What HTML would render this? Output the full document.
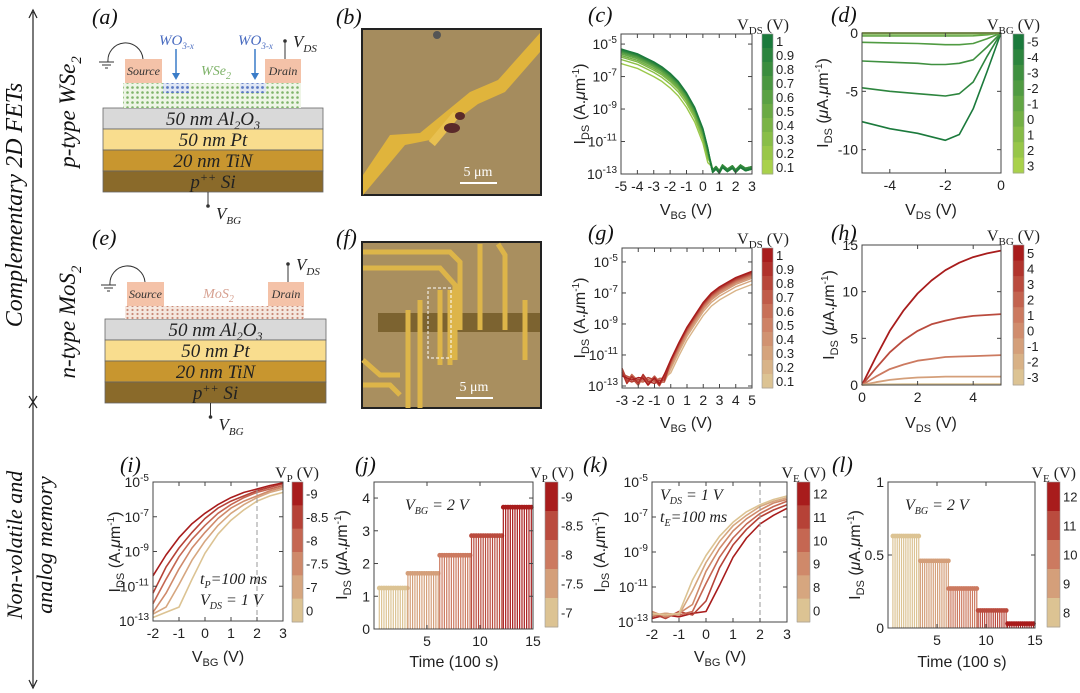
<!DOCTYPE html>
<html><head><meta charset="utf-8"><style>
html,body{margin:0;padding:0;background:#fff;}
svg{display:block;font-family:"Liberation Sans",sans-serif;}
.ser{font-family:"Liberation Serif",serif;font-style:italic;}
</style></head><body>
<svg id="fig" width="1080" height="693" viewBox="0 0 1080 693" xmlns="http://www.w3.org/2000/svg">
<defs>
<pattern id="wse" width="5" height="5" patternUnits="userSpaceOnUse"><rect width="5" height="5" fill="#eef5e6"/><circle cx="2.5" cy="2.5" r="1.3" fill="#7fb36a"/></pattern>
<pattern id="mos" width="5" height="4" patternUnits="userSpaceOnUse"><rect width="5" height="4" fill="#f5e7df"/><circle cx="2.5" cy="2" r="1.1" fill="#c98a78"/></pattern>
<pattern id="wo" width="5" height="5" patternUnits="userSpaceOnUse"><rect width="5" height="5" fill="#dfe6f5"/><circle cx="2.5" cy="2.5" r="1.4" fill="#5a78c0"/></pattern>
</defs>
<g>
<line x1="33" y1="12" x2="33" y2="686" stroke="#222" stroke-width="1.2"/>
<path d="M29,18 L33,10 L37,18" fill="none" stroke="#222" stroke-width="1.2"/>
<path d="M29,680 L33,688 L37,680" fill="none" stroke="#222" stroke-width="1.2"/>
<path d="M29,396 L33,402 L37,396 M29,408 L33,402 L37,408" fill="none" stroke="#222" stroke-width="1.2"/>
<text class="ser" transform="translate(22,205) rotate(-90)" text-anchor="middle" font-size="24" fill="#111">Complementary 2D FETs</text>
<text class="ser" transform="translate(75,112) rotate(-90)" text-anchor="middle" font-size="23" fill="#111">p-type WSe<tspan font-size="15" dy="6">2</tspan></text>
<text class="ser" transform="translate(75,322) rotate(-90)" text-anchor="middle" font-size="23" fill="#111">n-type MoS<tspan font-size="15" dy="6">2</tspan></text>
<text class="ser" transform="translate(22,545) rotate(-90)" text-anchor="middle" font-size="22" fill="#111">Non-volatile and</text>
<text class="ser" transform="translate(52,545) rotate(-90)" text-anchor="middle" font-size="22" fill="#111">analog memory</text>
</g>
<g id="schem"></g>
<g id="micro"></g>
<g id="plots"></g>
</svg>
<script>
const cVbg=[-5,-4.5,-4,-3.5,-3,-2.5,-2,-1.5,-1,-0.5,0,0.3,0.5,0.6,0.8,1,1.2,1.5,1.8,2,2.3,2.6,3];
const cLogI=[-5.3,-5.45,-5.6,-5.85,-6.1,-6.4,-6.8,-7.3,-8.0,-8.9,-10.2,-11.4,-12.5,-12.9,-12.7,-12.95,-12.6,-12.85,-12.65,-12.9,-12.6,-12.8,-12.7];
const cVds=[1,0.9,0.8,0.7,0.6,0.5,0.4,0.3,0.2,0.1];
const cOffset=[0,-0.05,-0.1,-0.15,-0.22,-0.3,-0.4,-0.5,-0.65,-0.9];

const dVds=[-5,-4,-3,-2.5,-2,-1.5,-1,-0.5,0];
const dVbg=[-5,-4,-3,-2,-1,0,1,2,3];
const dI=[
 [-7.6,-8.2,-8.6,-8.9,-9.2,-8.7,-6.5,-3.3,0],
 [-4.7,-5.0,-5.2,-5.3,-5.4,-5.2,-4.2,-2.0,0],
 [-2.4,-2.5,-2.6,-2.7,-2.7,-2.6,-2.3,-1.2,0],
 [-0.8,-0.85,-0.9,-0.95,-1.0,-1.0,-0.9,-0.5,0],
 [-0.25,-0.25,-0.25,-0.25,-0.25,-0.25,-0.24,-0.15,0],
 [-0.08,-0.08,-0.08,-0.08,-0.08,-0.08,-0.08,-0.05,0],
 [-0.02,-0.02,-0.02,-0.02,-0.02,-0.02,-0.02,-0.01,0],
 [0,0,0,0,0,0,0,0,0],
 [0,0,0,0,0,0,0,0,0]];

const gVbg=[-3,-2.7,-2.4,-2,-1.7,-1.4,-1,-0.7,-0.4,0,0.5,1,1.5,2,2.5,3,4,5];
const gLogI=[-12.1,-12.6,-12.5,-12.7,-12.5,-12.7,-12.6,-12.75,-12.5,-11.3,-10.2,-9.2,-8.4,-7.6,-7.0,-6.6,-6.0,-5.6];
const gVds=[1,0.9,0.8,0.7,0.6,0.5,0.4,0.3,0.2,0.1];
const gOffset=[0,-0.05,-0.1,-0.15,-0.2,-0.27,-0.35,-0.45,-0.6,-0.85];

const hVds=[0,0.5,1,1.5,2,2.5,3,3.5,4,4.5,5];
const hVbg=[5,3,1,-1,-3];
const hI=[
 [0,3.0,5.8,8.0,9.8,11.2,12.3,13.1,13.7,14.1,14.4],
 [0,1.8,3.5,4.8,5.8,6.5,6.9,7.2,7.4,7.5,7.6],
 [0,0.9,1.7,2.2,2.6,2.8,3.0,3.05,3.1,3.15,3.2],
 [0,0.3,0.55,0.7,0.8,0.85,0.9,0.9,0.9,0.9,0.9],
 [0,0.05,0.08,0.1,0.1,0.1,0.1,0.1,0.1,0.1,0.1]];

const iVbg=[-2,-1.5,-1,-0.5,0,0.5,1,1.5,2,2.5,3];
const iCurves=[
 [-10.4,-9.2,-8.2,-7.4,-6.8,-6.3,-5.9,-5.6,-5.4,-5.2,-5.05],
 [-11.4,-9.9,-8.8,-7.9,-7.1,-6.5,-6.1,-5.8,-5.5,-5.3,-5.1],
 [-12.0,-10.6,-9.3,-8.3,-7.5,-6.8,-6.3,-5.9,-5.6,-5.4,-5.2],
 [-12.5,-11.4,-10.0,-8.8,-7.9,-7.1,-6.5,-6.1,-5.8,-5.5,-5.3],
 [-12.6,-12.2,-10.9,-9.5,-8.4,-7.5,-6.8,-6.3,-5.9,-5.6,-5.4],
 [-12.8,-12.5,-12.2,-10.6,-9.1,-8.0,-7.2,-6.6,-6.1,-5.8,-5.6]];
const iVp=[-9,-8.5,-8,-7.5,-7,0];

const jLevels=[1.25,1.7,2.25,2.85,3.72];
const jStart=[0.5,3.2,6.2,9.2,12.2];
const jEnd=[3.2,6.2,9.2,12.2,14.9];

const kVbg=[-2,-1.5,-1,-0.5,0,0.5,1,1.5,2,2.5,3];
const kCurves=[
 [-12.5,-12.6,-12.5,-10.6,-9.2,-8.1,-7.3,-6.7,-6.3,-6.0,-5.8],
 [-12.6,-12.5,-12.6,-11.2,-9.6,-8.4,-7.5,-6.9,-6.4,-6.1,-5.9],
 [-12.4,-12.7,-12.5,-12.0,-10.1,-8.8,-7.8,-7.1,-6.6,-6.2,-6.0],
 [-12.7,-12.5,-12.6,-12.4,-10.8,-9.3,-8.2,-7.4,-6.8,-6.4,-6.1],
 [-12.5,-12.8,-12.4,-12.6,-11.8,-9.9,-8.6,-7.7,-7.0,-6.6,-6.3],
 [-12.8,-12.6,-12.7,-12.5,-12.4,-10.9,-9.3,-8.2,-7.4,-6.9,-6.5]];
const kVe=[0,8,9,10,11,12];

const lLevels=[0.63,0.46,0.27,0.12,0.03];
const lStart=[0.5,3.3,6.2,9.2,12.2];
const lEnd=[3.3,6.2,9.2,12.2,15];

const NS="http://www.w3.org/2000/svg";
function mk(tag,attrs,parent){const e=document.createElementNS(NS,tag);for(const k in attrs)e.setAttribute(k,attrs[k]);parent.appendChild(e);return e;}
function lerpC(a,b,t){const pa=[1,3,5].map(i=>parseInt(a.substr(i,2),16)),pb=[1,3,5].map(i=>parseInt(b.substr(i,2),16));return 'rgb('+pa.map((v,i)=>Math.round(v+(pb[i]-v)*t)).join(',')+')';}
function green(t){return lerpC('#a9d14b','#1b7a3c',t);}
function red(t){return t<0.5?lerpC('#dcc393','#cc7a60',t*2):lerpC('#cc7a60','#a81c1c',(t-0.5)*2);}
const plots=document.getElementById('plots');

function makeAxes(o){
 const g=mk('g',{},plots);
 
 
 const sx=v=>o.x0+(v-o.xd[0])/(o.xd[1]-o.xd[0])*(o.x1-o.x0);
 const sy=v=>o.y1-(v-o.yd[0])/(o.yd[1]-o.yd[0])*(o.y1-o.y0);
 return {g,sx,sy,o};
}
function drawFrame(A,xt,yt,logY){
 const {g,sx,sy,o}=A;
 const fr=mk('rect',{x:o.x0,y:o.y0,width:o.x1-o.x0,height:o.y1-o.y0,fill:'none',stroke:'#444','stroke-width':1},g);
 
 
 xt.forEach(v=>{const x=sx(v);
  mk('line',{x1:x,x2:x,y1:o.y1,y2:o.y1-4,stroke:'#444'},g);mk('line',{x1:x,x2:x,y1:o.y0,y2:o.y0+4,stroke:'#444'},g);
  const t=mk('text',{x:x,y:o.y1+17,'text-anchor':'middle','font-size':14,fill:'#222'},g);t.textContent=String(v);
  
  });
 yt.forEach(v=>{const y=sy(v);
  mk('line',{x1:o.x0,x2:o.x0+4,y1:y,y2:y,stroke:'#444'},g);mk('line',{x1:o.x1,x2:o.x1-4,y1:y,y2:y,stroke:'#444'},g);
  const t=mk('text',{x:o.x0-4,y:y+5,'text-anchor':'end','font-size':14,fill:'#222'},g);
  if(logY){t.textContent='10';const s=mk('tspan',{'font-size':10,dy:-6},t);s.textContent=String(v);}
  else t.textContent=String(v);
  
  });
}
function line(A,xs,ys,color,w){
 const d=xs.map((x,i)=>(i?'L':'M')+A.sx(x).toFixed(1)+','+A.sy(ys[i]).toFixed(1)).join('');
 return mk('path',{d:d,fill:'none',stroke:color,'stroke-width':w||1.6,'stroke-linejoin':'round'},A.g);
}
function colorbar(x,y0,y1,w,n,cf,labels,title,name){
 const g=mk('g',{},plots);
 
 
 const h=(y1-y0)/n;
 for(let i=0;i<n;i++){const r=mk('rect',{x:x,y:y0+i*h,width:w,height:h+0.5,fill:cf(1-i/(n-1))},g);
  
  }
 mk('rect',{x:x,y:y0,width:w,height:y1-y0,fill:'none',stroke:'#999','stroke-width':0.6},g);
 const lh=(y1-y0)/labels.length;
 labels.forEach((l,i)=>{const t=mk('text',{x:x+w+3,y:y0+lh*(i+0.5)+5,'font-size':13,fill:'#222'},g);t.textContent=l;
  
  });
 const t=mk('text',{x:x+w+16,y:y0-4,'text-anchor':'end','font-size':16,fill:'#222','font-family':'Liberation Serif, serif'},g);
 t.textContent=title[0];const s=mk('tspan',{'font-size':11,dy:4},t);s.textContent=title[1];const s2=mk('tspan',{dy:-4},t);s2.textContent=' (V)';
 
 
}
function txt(x,y,parts,opts,name){
 const t=mk('text',Object.assign({x:x,y:y,fill:'#222','font-size':15},opts||{}),plots);
 parts.forEach(p=>{const s=mk('tspan',p[1]||{},t);s.textContent=p[0];});
 
 
 return t;
}
function xTitle(x,y,main,sub,name,unit){const u=(unit===undefined)?' (V)':unit;txt(x,y,[[main],[sub,{'font-size':11,dy:4}],[u,{dy:-4}]],{'text-anchor':'middle','font-size':16},name);}
function yTitle(x,y,log,name){
 const t=mk('text',{x:0,y:0,transform:`translate(${x},${y}) rotate(-90)`,'text-anchor':'middle','font-size':16,fill:'#222'},plots);
 const parts=log?[['I'],['DS',{'font-size':11,dy:4}],[' (A.',{dy:-4}],['\u03bc','it'],['m'],['-1',{'font-size':10,dy:-6}],[')',{dy:6}]]
  :[['I'],['DS',{'font-size':11,dy:4}],[' (',{dy:-4}],['\u03bc','it'],['A.'],['\u03bc','it'],['m'],['-1',{'font-size':10,dy:-6}],[')',{dy:6}]];
 parts.forEach(p=>{const s=mk('tspan',p[1]==='it'?{'font-style':'italic'}:(p[1]||{}),t);s.textContent=p[0];});
 
 
}
function panelLabel(x,y,s){const t=mk('text',{x:x,y:y,'font-size':22,fill:'#111','font-family':'Liberation Serif, serif','font-style':'italic'},document.getElementById('fig'));t.textContent='('+s+')';
 
 }

let A=makeAxes({name:'panel-c-transfer',x0:621,x1:752,y0:34,y1:174,xd:[-5,3],yd:[-13,-4.38]});
cVds.slice().reverse().forEach((v,ri)=>{const i=cVds.length-1-ri;
 const ys=cLogI.map((y,k)=>cVbg[k]<0.5?y+cOffset[i]:y+(i%3)*0.08);
 const p=line(A,cVbg,ys,green(v),1.4);
 
 });
drawFrame(A,[-5,-4,-3,-2,-1,0,1,2,3],[-5,-7,-9,-11,-13],true);
xTitle(686,215,'V','BG','x-axis-title-c');yTitle(585,104,true,'y-axis-title-c');
colorbar(762,34,174,11,10,green,['1','0.9','0.8','0.7','0.6','0.5','0.4','0.3','0.2','0.1'],['V','DS'],'colorbar-c');

A=makeAxes({name:'panel-d-output',x0:862,x1:1001,y0:33,y1:173,xd:[-5,0],yd:[-12,0]});
dVbg.forEach((v,i)=>{const p=line(A,dVds,dI[i],green(1-i/(dVbg.length-1)),1.6);
 
 });
drawFrame(A,[-4,-2,0],[0,-5,-10],false);
xTitle(931,215,'V','DS','x-axis-title-d');yTitle(828,103,false,'y-axis-title-d');
colorbar(1013,34,173,11,9,green,['-5','-4','-3','-2','-1','0','1','2','3'],['V','BG'],'colorbar-d');

A=makeAxes({name:'panel-g-transfer',x0:622,x1:752,y0:248,y1:388,xd:[-3,5],yd:[-13.13,-4.1]});
gVds.slice().reverse().forEach((v,ri)=>{const i=gVds.length-1-ri;
 const ys=gLogI.map((y,k)=>gVbg[k]>-0.3?y+gOffset[i]:y+((i*7+k*3)%5-2)*0.12);
 const p=line(A,gVbg,ys,red(v),1.4);
 
 });
drawFrame(A,[-3,-2,-1,0,1,2,3,4,5],[-5,-7,-9,-11,-13],true);
xTitle(686,428,'V','BG','x-axis-title-g');yTitle(585,318,true,'y-axis-title-g');
colorbar(762,248,388,11,10,red,['1','0.9','0.8','0.7','0.6','0.5','0.4','0.3','0.2','0.1'],['V','DS'],'colorbar-g');

A=makeAxes({name:'panel-h-output',x0:862,x1:1001,y0:245,y1:385,xd:[0,5],yd:[0,15]});
hVbg.forEach((v,i)=>{const p=line(A,hVds,hI[i],red((v+3)/8),1.8);
 
 });
drawFrame(A,[0,2,4],[0,5,10,15],false);
xTitle(931,428,'V','DS','x-axis-title-h');yTitle(834,315,false,'y-axis-title-h');
colorbar(1013,245,385,11,9,red,['5','4','3','2','1','0','-1','-2','-3'],['V','BG'],'colorbar-h');

A=makeAxes({name:'panel-i-memory-program',x0:153,x1:283,y0:482,y1:621,xd:[-2,3],yd:[-13,-5]});
iCurves.slice().reverse().forEach((c,ri)=>{const i=iCurves.length-1-ri;
 const p=line(A,iVbg,c,red(1-i/(iCurves.length-1)),1.6);
 
 });
mk('line',{x1:A.sx(2),x2:A.sx(2),y1:482,y2:621,stroke:'#999','stroke-dasharray':'5,3'},A.g);
drawFrame(A,[-2,-1,0,1,2,3],[-5,-7,-9,-11,-13],true);
xTitle(218,662,'V','BG','x-axis-title-i');yTitle(120,552,true,'y-axis-title-i');
colorbar(292,482,622,11,6,red,['-9','-8.5','-8','-7.5','-7','0'],['V','P'],'colorbar-i');
txt(200,584,[['t'],['P',{'font-size':10,dy:4}],['=100 ms',{dy:-4}]],{'font-family':'Liberation Serif, serif','font-style':'italic','font-size':16},'annotation-tp');
txt(200,605,[['V'],['DS',{'font-size':10,dy:4}],[' = 1 V',{dy:-4}]],{'font-family':'Liberation Serif, serif','font-style':'italic','font-size':16},'annotation-vds');

function stems(A,levels,st,en,cf){
 levels.forEach((lv,i)=>{const c=cf(i);
  for(let t=st[i];t<en[i];t+=0.22){
   const l=mk('line',{x1:A.sx(t),x2:A.sx(t),y1:A.sy(0),y2:A.sy(lv),stroke:c,'stroke-width':1.2},A.g);
   
   
   const d=mk('circle',{cx:A.sx(t),cy:A.sy(lv),r:2.4,fill:c},A.g);
   
   }
 });
}
A=makeAxes({name:'panel-j-program-retention',x0:374,x1:533,y0:482,y1:629,xd:[0,15],yd:[0,4.49]});
stems(A,jLevels,jStart,jEnd,i=>red(i/4));
drawFrame(A,[5,10,15],[0,1,2,3,4],false);
xTitle(454,667,'Time (100 s)','','x-axis-title-j','');
yTitle(347,555,false,'y-axis-title-j');
colorbar(545,482,627,13,5,red,['-9','-8.5','-8','-7.5','-7'],['V','P'],'colorbar-j');
txt(405,510,[['V'],['BG',{'font-size':10,dy:4}],[' = 2 V',{dy:-4}]],{'font-family':'Liberation Serif, serif','font-style':'italic','font-size':16},'annotation-vbg-j');

A=makeAxes({name:'panel-k-memory-erase',x0:652,x1:787,y0:482,y1:622,xd:[-2,3],yd:[-13,-5]});
kCurves.slice().reverse().forEach((c,ri)=>{const i=kCurves.length-1-ri;
 const p=line(A,kVbg,c,red(i/(kCurves.length-1)),1.6);
 
 });
mk('line',{x1:A.sx(2),x2:A.sx(2),y1:482,y2:622,stroke:'#999','stroke-dasharray':'5,3'},A.g);
drawFrame(A,[-2,-1,0,1,2,3],[-5,-7,-9,-11,-13],true);
xTitle(720,662,'V','BG','x-axis-title-k');yTitle(605,552,true,'y-axis-title-k');
colorbar(797,482,622,13,6,red,['12','11','10','9','8','0'],['V','E'],'colorbar-k');
txt(660,500,[['V'],['DS',{'font-size':10,dy:4}],[' = 1 V',{dy:-4}]],{'font-family':'Liberation Serif, serif','font-style':'italic','font-size':16},'annotation-vds-k');
txt(660,522,[['t'],['E',{'font-size':10,dy:4}],['=100 ms',{dy:-4}]],{'font-family':'Liberation Serif, serif','font-style':'italic','font-size':16},'annotation-te');

A=makeAxes({name:'panel-l-erase-retention',x0:888,x1:1035,y0:482,y1:628,xd:[0,15],yd:[0,1]});
stems(A,lLevels,lStart,lEnd,i=>red(i/4));
drawFrame(A,[5,10,15],[0,0.5,1],false);
xTitle(962,667,'Time (100 s)','','x-axis-title-l','');
yTitle(860,555,false,'y-axis-title-l');
colorbar(1047,482,627,13,5,red,['12','11','10','9','8'],['V','E'],'colorbar-l');
txt(905,510,[['V'],['BG',{'font-size':10,dy:4}],[' = 2 V',{dy:-4}]],{'font-family':'Liberation Serif, serif','font-style':'italic','font-size':16},'annotation-vbg-l');

[['a',92,24],['b',336,24],['c',588,22],['d',831,22],['e',92,245],['f',336,245],['g',588,240],['h',831,240],['i',120,472],['j',355,472],['k',583,472],['l',832,472]].forEach(p=>panelLabel(p[1],p[2],p[0]));

const sch=document.getElementById('schem');
function device(y0,x0,x1,isW){
 const layers=['#d9d9d9','#f9dd8e','#c8962f','#8a6a2a'];
 const names=['50 nm Al','50 nm Pt','20 nm TiN','p'];
 const g=mk('g',{},sch);
 
 
 layers.forEach((col,i)=>{const y=y0+i*21;
  const r=mk('rect',{x:x0,y:y,width:x1-x0,height:21,fill:col,stroke:'#666','stroke-width':0.8},g);
  
  
  const t=mk('text',{x:(x0+x1)/2,y:y+17,'text-anchor':'middle','font-size':19,fill:'#222','font-family':'Liberation Serif, serif','font-style':'italic'},g);
  t.textContent=names[i];
  if(i==0){const a=mk('tspan',{'font-size':12,dy:4},t);a.textContent='2';const b=mk('tspan',{dy:-4},t);b.textContent='O';const c=mk('tspan',{'font-size':12,dy:4},t);c.textContent='3';}
  else if(i==3){const a=mk('tspan',{'font-size':12,dy:-7},t);a.textContent='++';const b=mk('tspan',{dy:7},t);b.textContent=' Si';}
 });
 const cx0=x0+20,cx1=x1-22;
 const chH=isW?25:13;
 mk('rect',{x:cx0,y:y0-chH,width:cx1-cx0,height:chH,fill:isW?'url(#wse)':'url(#mos)'},g);
 if(isW){mk('rect',{x:163,y:y0-chH,width:26,height:10,fill:'url(#wo)'},g);mk('rect',{x:240,y:y0-chH,width:26,height:10,fill:'url(#wo)'},g);}
 const py=y0-chH-24;
 [['Source',cx0+2,cx0+39],['Drain',x1-58,x1-22]].forEach(s=>{
  mk('rect',{x:s[1],y:py,width:s[2]-s[1],height:24,fill:'#f4c2a8'},g);
  const t=mk('text',{x:(s[1]+s[2])/2,y:py+16,'text-anchor':'middle','font-size':12,fill:'#333','font-family':'Liberation Serif, serif','font-style':'italic'},g);t.textContent=s[0];
  
  });
 mk('path',{d:`M${x0+5},${py+3} A17,17 0 0 1 ${x0+40},${py}`,fill:'none',stroke:'#333'},g);
 mk('path',{d:`M${x0-4},${py+3} h15 M${x0-1},${py+6} h9 M${x0+2},${py+9} h3`,stroke:'#333'},g);
 mk('line',{x1:x1-38,x2:x1-38,y1:py,y2:py-18,stroke:'#333'},g);mk('circle',{cx:x1-38,cy:py-18,r:1.8,fill:'#333'},g);
 let t=mk('text',{x:x1-30,y:py-12,'font-size':17,fill:'#222','font-family':'Liberation Serif, serif','font-style':'italic'},g);t.textContent='V';let s=mk('tspan',{'font-size':11,dy:5},t);s.textContent='DS';
 const bx=(x0+x1)/2-5,by=y0+84;
 mk('line',{x1:bx,x2:bx,y1:by,y2:by+14,stroke:'#333'},g);mk('circle',{cx:bx,cy:by+14,r:1.8,fill:'#333'},g);
 t=mk('text',{x:bx+8,y:by+27,'font-size':17,fill:'#222','font-family':'Liberation Serif, serif','font-style':'italic'},g);t.textContent='V';s=mk('tspan',{'font-size':11,dy:5},t);s.textContent='BG';
 t=mk('text',{x:(x0+x1)/2+3,y:y0-chH-8,'text-anchor':'middle','font-size':14,fill:isW?'#7fb36a':'#d6a090','font-family':'Liberation Serif, serif','font-style':'italic'},g);t.textContent=isW?'WSe':'MoS';s=mk('tspan',{'font-size':10,dy:4},t);s.textContent='2';
 if(isW){[172,251].forEach(wx=>{
  const tt=mk('text',{x:wx-13,y:45,'font-size':15,fill:'#4a6cc0','font-family':'Liberation Serif, serif','font-style':'italic'},g);tt.textContent='WO';const ss=mk('tspan',{'font-size':9,dy:4},tt);ss.textContent='3-x';
  mk('line',{x1:wx+4,x2:wx+4,y1:49,y2:78,stroke:'#3a7cc8','stroke-width':1.5},g);
  mk('path',{d:`M${wx},73 L${wx+4},80 L${wx+8},73`,fill:'#3a7cc8'},g);});}
}
device(108,103,323,true);
device(319,105,326,false);

const mic=document.getElementById('micro');
let g=mk('g',{},mic);


mk('rect',{x:362,y:29,width:179,height:166,fill:'#a58c5e',stroke:'#222','stroke-width':2},g);
mk('path',{d:'M363,175 L390,135 L420,133 L470,92 L498,80 L540,33 L540,52 L505,92 L478,104 L430,140 L405,145 L363,195 Z',fill:'#e0b43c'},g);
mk('rect',{x:440,y:110,width:8,height:38,fill:'#e8c050',transform:'rotate(40 444 129)'},g);
mk('ellipse',{cx:452,cy:128,rx:8,ry:5,fill:'#5a2a2a'},g);mk('ellipse',{cx:460,cy:116,rx:5,ry:4,fill:'#5a2a2a'},g);
mk('circle',{cx:437,cy:35,r:4,fill:'#555'},g);
mk('line',{x1:460,x2:497,y1:183,y2:183,stroke:'#fff','stroke-width':2},g);
let tt=mk('text',{x:478,y:176,'text-anchor':'middle','font-size':14,fill:'#fff','font-family':'Liberation Serif, serif'},g);tt.textContent='5 \u03bcm';
g=mk('g',{},mic);


mk('rect',{x:362,y:242,width:179,height:166,fill:'#a98f5f',stroke:'#222','stroke-width':2},g);
mk('rect',{x:378,y:313,width:162,height:19,fill:'#7c6330'},g);
mk('path',{d:'M363,252 L450,252 L460,262 L460,330 M363,268 L440,268 L455,285 L455,360 M480,244 L480,330 M498,244 L505,255 L505,330 M408,310 L408,408 M420,300 L420,408 M440,290 L440,365 M450,290 L450,365 M525,300 L525,360 M363,360 L380,375 L400,375 M363,385 L390,385 L400,395',fill:'none',stroke:'#ddb549','stroke-width':5},g);
mk('rect',{x:428,y:288,width:23,height:70,fill:'none',stroke:'#fff','stroke-width':1,'stroke-dasharray':'3,2'},g);
mk('line',{x1:456,x2:493,y1:398,y2:398,stroke:'#fff','stroke-width':2},g);
tt=mk('text',{x:474,y:391,'text-anchor':'middle','font-size':14,fill:'#fff','font-family':'Liberation Serif, serif'},g);tt.textContent='5 \u03bcm';
</script>
</body></html>
